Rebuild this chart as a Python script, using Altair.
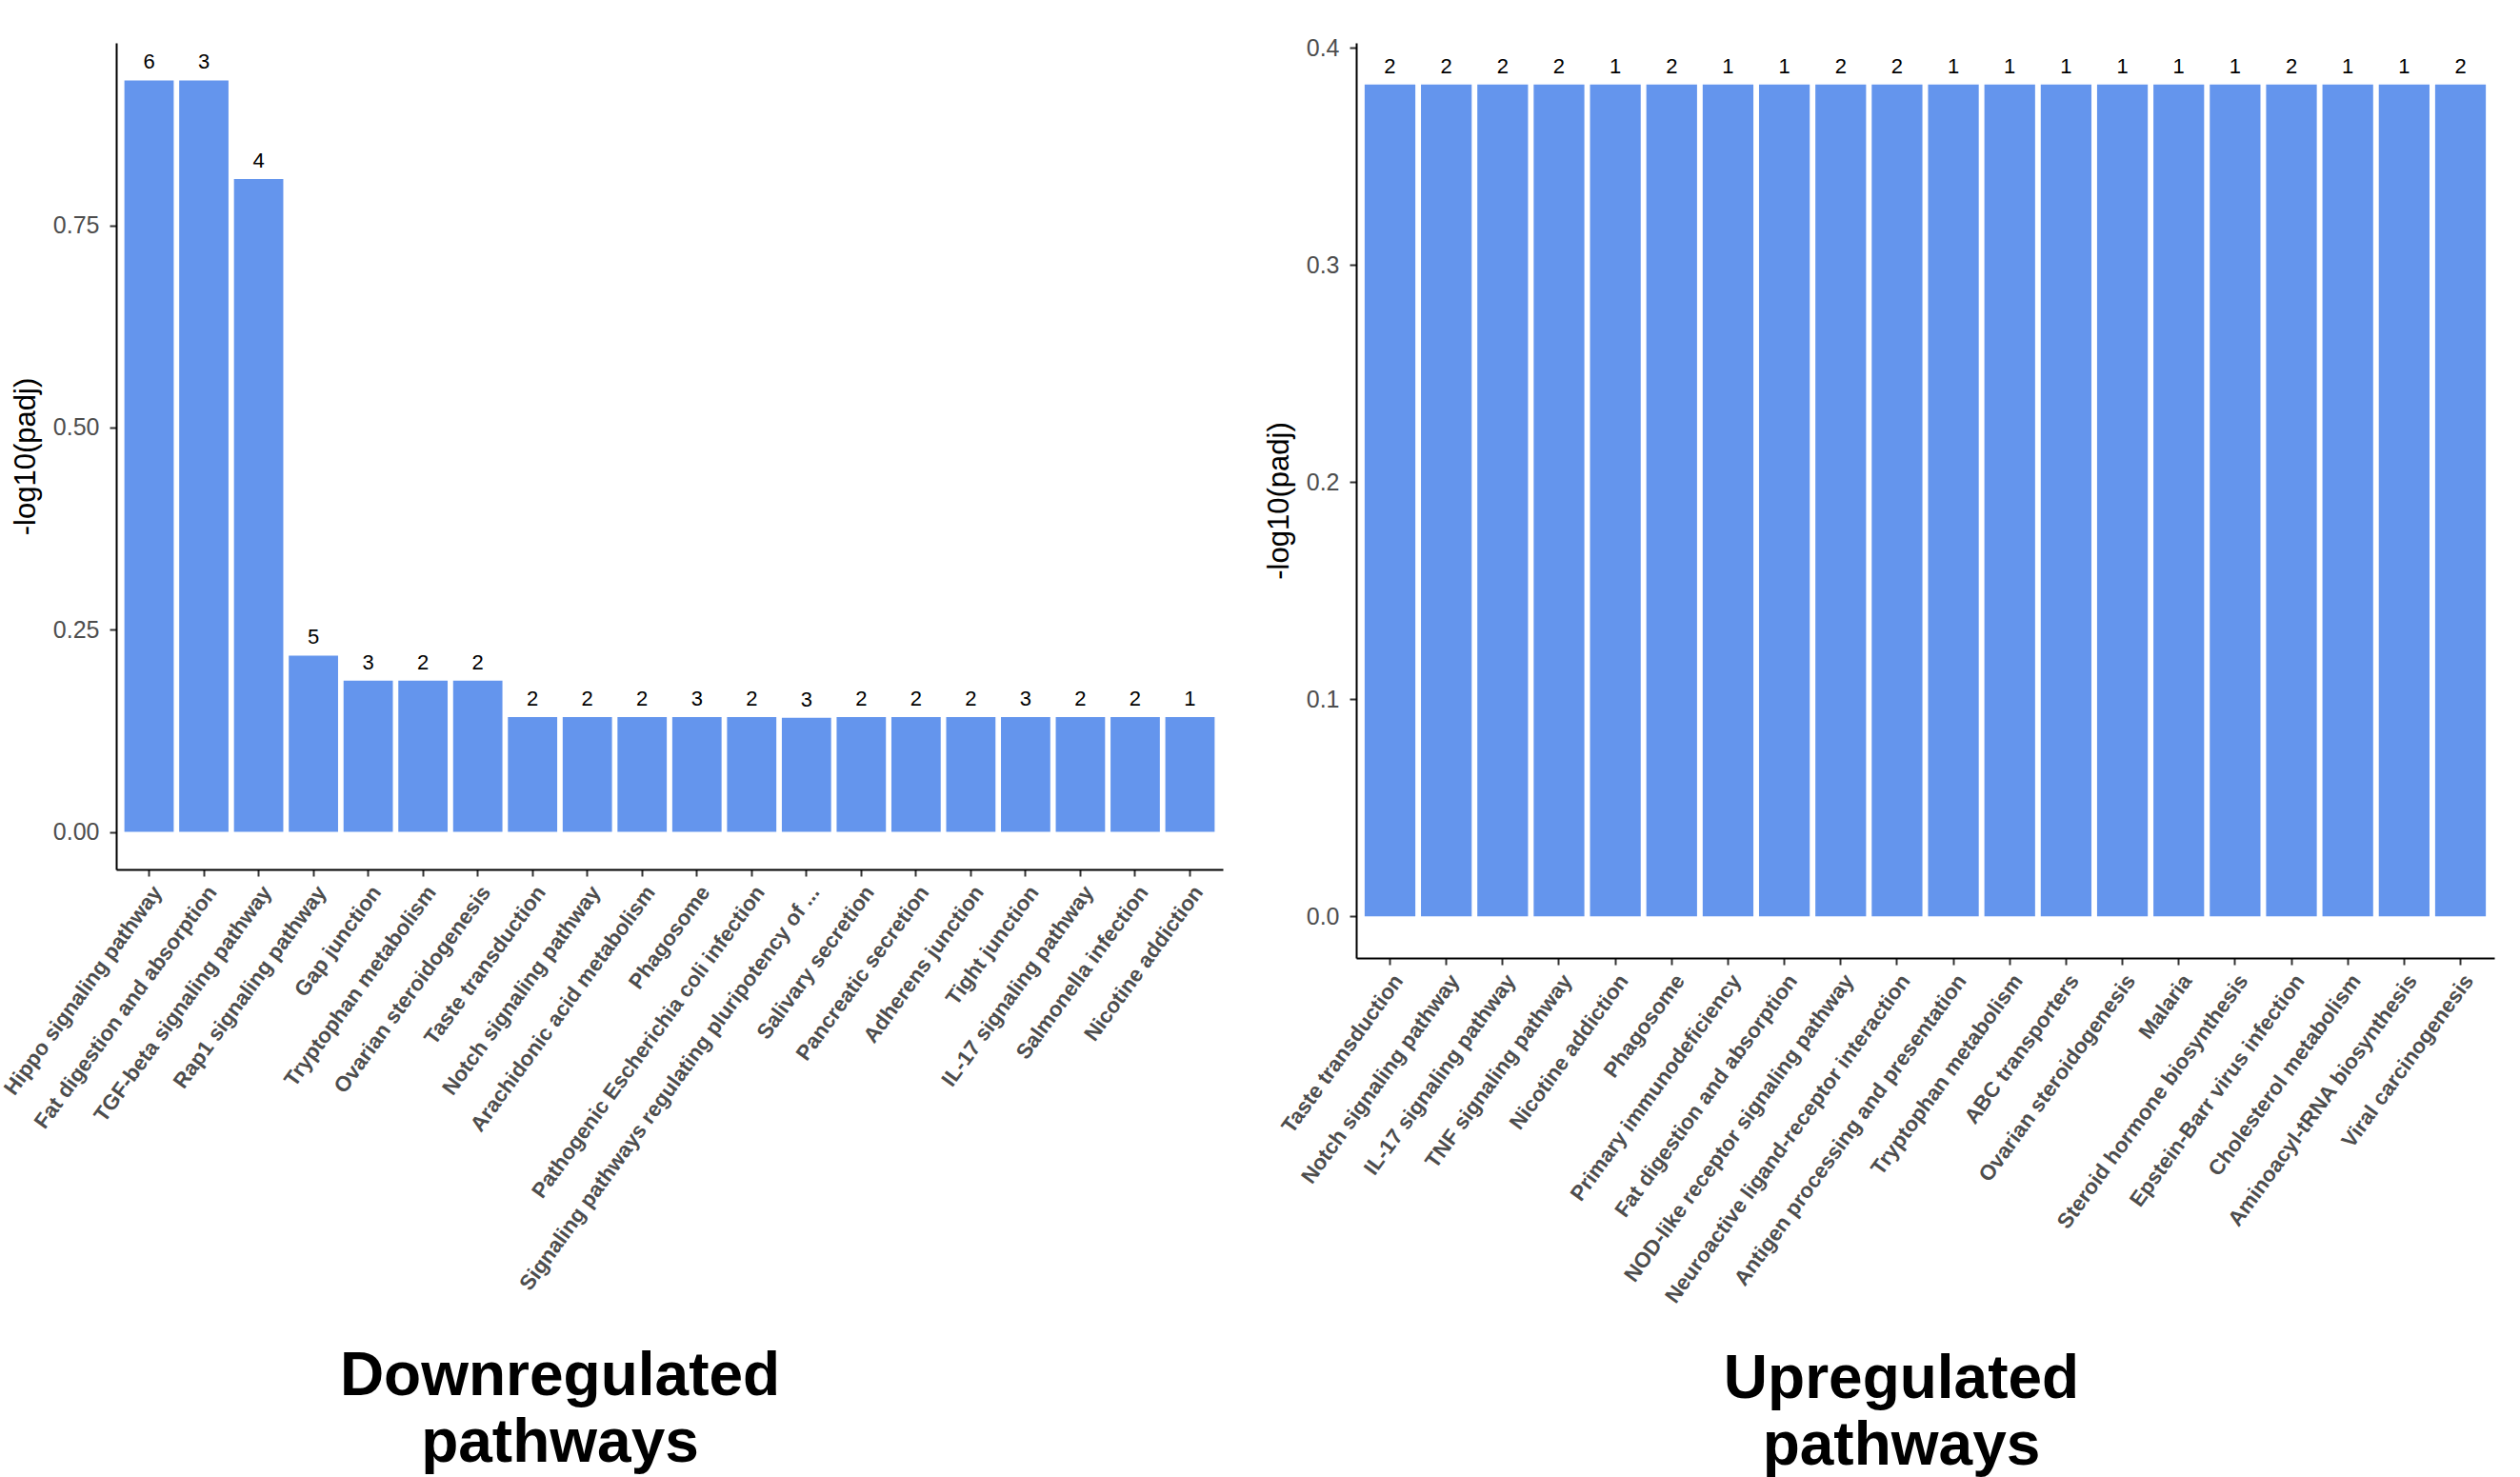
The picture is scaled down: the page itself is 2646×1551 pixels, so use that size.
import altair as alt
import pandas as pd

# KEGG pathways enriched among downregulated genes
down_terms = [
    "Hippo signaling pathway",
    "Fat digestion and absorption",
    "TGF-beta signaling pathway",
    "Rap1 signaling pathway",
    "Gap junction",
    "Tryptophan metabolism",
    "Ovarian steroidogenesis",
    "Taste transduction",
    "Notch signaling pathway",
    "Arachidonic acid metabolism",
    "Phagosome",
    "Pathogenic Escherichia coli infection",
    "Signaling pathways regulating pluripotency of ...",
    "Salivary secretion",
    "Pancreatic secretion",
    "Adherens junction",
    "Tight junction",
    "IL-17 signaling pathway",
    "Salmonella infection",
    "Nicotine addiction",
]
down_values = [0.929, 0.929, 0.807, 0.218, 0.187, 0.187, 0.187, 0.142, 0.142, 0.142,
               0.142, 0.142, 0.141, 0.142, 0.142, 0.142, 0.142, 0.142, 0.142, 0.142]
down_counts = [6, 3, 4, 5, 3, 2, 2, 2, 2, 2, 3, 2, 3, 2, 2, 2, 3, 2, 2, 1]

# KEGG pathways enriched among upregulated genes
up_terms = [
    "Taste transduction",
    "Notch signaling pathway",
    "IL-17 signaling pathway",
    "TNF signaling pathway",
    "Nicotine addiction",
    "Phagosome",
    "Primary immunodeficiency",
    "Fat digestion and absorption",
    "NOD-like receptor signaling pathway",
    "Neuroactive ligand-receptor interaction",
    "Antigen processing and presentation",
    "Tryptophan metabolism",
    "ABC transporters",
    "Ovarian steroidogenesis",
    "Malaria",
    "Steroid hormone biosynthesis",
    "Epstein-Barr virus infection",
    "Cholesterol metabolism",
    "Aminoacyl-tRNA biosynthesis",
    "Viral carcinogenesis",
]
up_values = [0.383, 0.383, 0.383, 0.383, 0.383, 0.383, 0.383, 0.383, 0.383, 0.383,
             0.383, 0.383, 0.383, 0.383, 0.383, 0.383, 0.383, 0.383, 0.383, 0.383]
up_counts = [2, 2, 2, 2, 1, 2, 1, 1, 2, 2, 1, 1, 1, 1, 1, 1, 2, 1, 1, 2]

BAR_COLOR = "#6495ED"
FONT = "Liberation Sans, Arial, Helvetica, sans-serif"
TICK_GREY = "#4d4d4d"


def pathway_panel(terms, values, counts, y_domain, y_ticks, y_fmt,
                  width, height, title_lines, title_dx, title_offset):
    df = pd.DataFrame({"Description": terms, "padj": values, "Count": counts})

    x = alt.X(
        "Description:N",
        sort=None,
        title=None,
        scale=alt.Scale(paddingInner=0.1, paddingOuter=0.15),
        axis=alt.Axis(
            labelAngle=306,
            labelAlign="right",
            labelBaseline="top",
            labelFont=FONT,
            labelFontSize=22.5,
            labelFontWeight="bold",
            labelColor=TICK_GREY,
            labelPadding=6,
            labelLimit=1000,
            labelOverlap=False,
            tickSize=7,
            tickWidth=2,
            tickColor="#333333",
            domainColor="black",
            domainWidth=2,
        ),
    )
    y = alt.Y(
        "padj:Q",
        title="-log10(padj)",
        scale=alt.Scale(domain=y_domain, nice=False, zero=False),
        axis=alt.Axis(
            values=y_ticks,
            format=y_fmt,
            grid=False,
            labelFont=FONT,
            labelFontSize=25,
            labelColor=TICK_GREY,
            labelPadding=11,
            tickSize=7,
            tickWidth=2,
            tickColor="#333333",
            domainColor="black",
            domainWidth=2,
            titleFont=FONT,
            titleFontSize=31,
            titleFontWeight="normal",
            titleColor="black",
            titlePadding=12,
        ),
    )

    bars = alt.Chart(df).mark_bar(color=BAR_COLOR).encode(
        x=x, y=y, y2=alt.datum(0)
    )
    labels = alt.Chart(df).mark_text(
        baseline="alphabetic", dy=-12, font=FONT, fontSize=22, color="black"
    ).encode(x=x, y=y, text="Count:Q")

    return alt.layer(bars, labels).properties(
        width=width,
        height=height,
        title=alt.TitleParams(
            text=title_lines,
            orient="bottom",
            anchor="middle",
            frame="group",
            font=FONT,
            fontSize=64,
            fontWeight="bold",
            color="black",
            lineHeight=70,
            baseline="top",
            dx=title_dx,
            offset=title_offset,
        ),
    )


left = pathway_panel(
    down_terms, down_values, down_counts,
    [-0.0464, 0.9755], [0, 0.25, 0.5, 0.75], ".2f",
    1162, 868, ["Downregulated", "pathways"], -115, 55,
)
right = pathway_panel(
    up_terms, up_values, up_counts,
    [-0.01915, 0.4022], [0, 0.1, 0.2, 0.3, 0.4], ".1f",
    1195, 961, ["Upregulated", "pathways"], -25, 45,
)

chart = (
    alt.hconcat(left, right, spacing=43)
    .configure_view(stroke=None)
    .properties(background="white", padding={"left": 0, "top": 38, "right": 5, "bottom": 5})
)

chart.save("out.html", embed_options={"renderer": "svg", "actions": False})
